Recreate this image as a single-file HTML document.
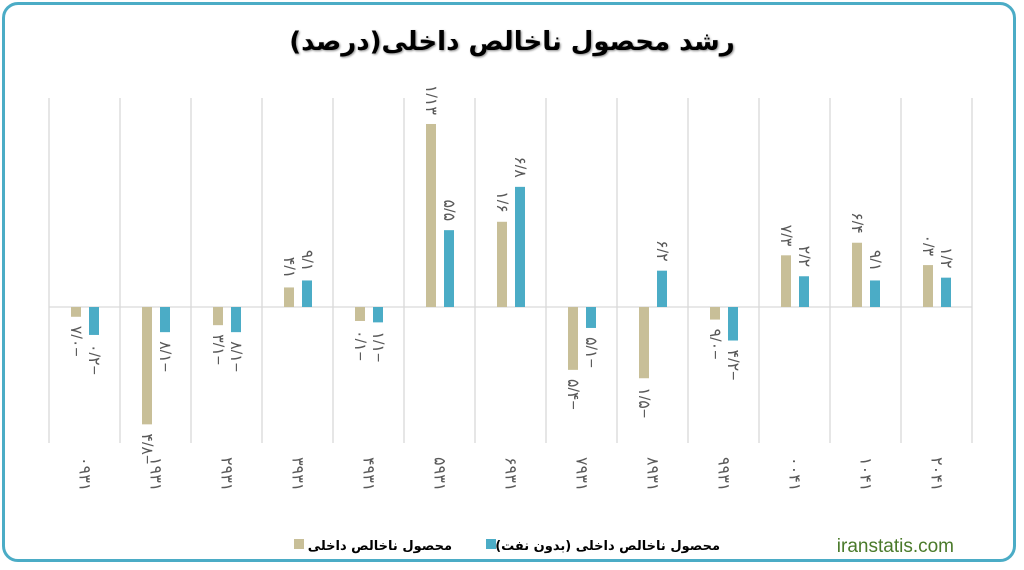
<!DOCTYPE html>
<html><head><meta charset="utf-8"><style>
html,body{margin:0;padding:0;background:#fff;}
#wrap{position:absolute;left:2px;top:2px;width:1014px;height:560px;border:3px solid #4bacc6;border-radius:16px;box-sizing:border-box;background:#fff;}
svg{position:absolute;left:0;top:0;}
text{font-family:"Liberation Sans","DejaVu Sans",sans-serif;}
</style></head><body>
<div id="wrap"></div>
<svg id="chart" width="1024" height="570">
<text x="512" y="50" text-anchor="middle" font-size="26" font-weight="bold" fill="#000" style="font-family:'DejaVu Sans','Noto Sans CJK SC',sans-serif;filter:drop-shadow(1px 1px 1px #888)">رشد محصول ناخالص داخلی(درصد)</text>
<g id="grid"></g><g id="bars"></g><g id="labels"></g>
<g>
<rect x="294" y="539" width="10" height="10" fill="#c8bf98"/>
<text x="452" y="550" text-anchor="end" font-size="13" font-weight="bold" style="font-family:'DejaVu Sans',sans-serif">محصول ناخالص داخلی</text>
<rect x="486" y="539" width="10" height="10" fill="#4bacc6"/>
<text x="720" y="550" text-anchor="end" font-size="13" font-weight="bold" style="font-family:'DejaVu Sans',sans-serif">محصول ناخالص داخلی (بدون نفت)</text>
</g>
<text x="954" y="552" text-anchor="end" font-size="19" fill="#4a7a2a">iranstatis.com</text>
</svg>
<script>
const years=["۱۳۹۰","۱۳۹۱","۱۳۹۲","۱۳۹۳","۱۳۹۴","۱۳۹۵","۱۳۹۶","۱۳۹۷","۱۳۹۸","۱۳۹۹","۱۴۰۰","۱۴۰۱","۱۴۰۲"];
const gdp=[-0.7,-8.4,-1.3,1.4,-1.0,13.1,6.1,-4.5,-5.1,-0.9,3.7,4.6,3.0];
const nonOil=[-2.0,-1.8,-1.8,1.9,-1.1,5.5,8.6,-1.5,2.6,-2.4,2.2,1.9,2.1];
const NS="http://www.w3.org/2000/svg";
const X0=49,CAT_W=71,Y0=307,PX_PER_UNIT=13.97,PLOT_TOP=98,PLOT_BOTTOM=443;
const xs=i=>X0+i*CAT_W, ys=v=>Y0-v*PX_PER_UNIT;
const fa=s=>s.replace(/[0-9]/g,d=>"۰۱۲۳۴۵۶۷۸۹"[d]);
function mk(tag,attrs,parent){const e=document.createElementNS(NS,tag);for(const k in attrs)e.setAttribute(k,attrs[k]);document.getElementById(parent).appendChild(e);return e;}
for(let i=0;i<=years.length;i++){
 const l=mk('line',{x1:xs(i),x2:xs(i),y1:PLOT_TOP,y2:PLOT_BOTTOM,stroke:'#d9d9d9','stroke-width':1.3},'grid');
 
 
}
const z=mk('line',{x1:X0,x2:xs(years.length),y1:Y0,y2:Y0,stroke:'#d9d9d9','stroke-width':1.3},'grid');


function lbl(v){const a=Math.abs(v).toFixed(1).split('.');return fa(a[1]+'/'+a[0])+(v<0?'−':'');}
function drawBar(i,v,off,color,nm){
 const x=xs(i)+off,y=ys(v),h=Math.abs(y-Y0);
 const r=mk('rect',{x:x,y:Math.min(y,Y0),width:10,height:h,fill:color},'bars');
 
 
 const cx=x+5, ty=v<0?y+9:y-9;
 const t=mk('text',{x:0,y:0,transform:`translate(${cx-5},${ty}) rotate(90)`,'font-size':16,fill:'#595959','text-anchor':v<0?'start':'end','letter-spacing':'4'},'labels');
 t.style.unicodeBidi='bidi-override';t.style.direction='ltr';
 t.textContent=lbl(v);
 
 
}
years.forEach((yr,i)=>{
 drawBar(i,gdp[i],22,'#c8bf98','gdp');
 drawBar(i,nonOil[i],40,'#4bacc6','non-oil');
 const t=mk('text',{x:0,y:0,transform:`translate(${xs(i)+CAT_W/2-5},457) rotate(90)`,'font-size':16,fill:'#595959','letter-spacing':'5'},'labels');
 t.style.unicodeBidi='bidi-override';t.style.direction='ltr';
 t.textContent=yr.split('').reverse().join('');
 
 
});
</script>
</body></html>
